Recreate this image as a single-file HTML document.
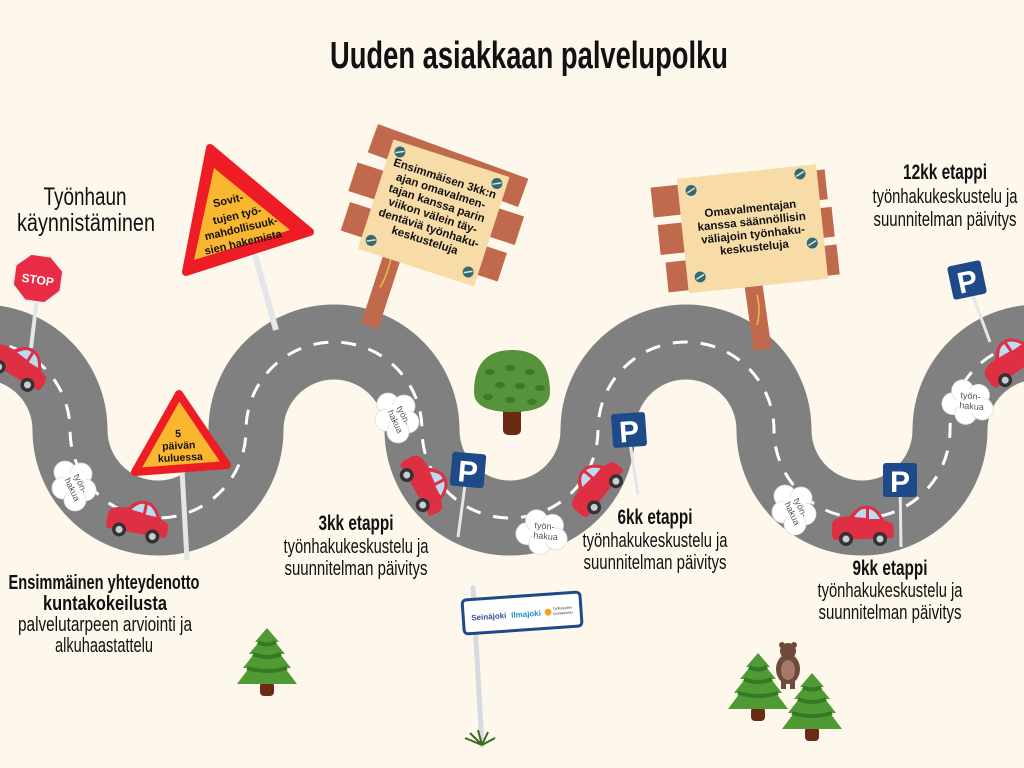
<!DOCTYPE html>
<html><head><meta charset="utf-8"><style>
html,body{margin:0;padding:0;background:#fdf7ec;}
svg{display:block}
.t{font-family:"Liberation Sans Narrow","Liberation Sans",sans-serif;fill:#111}
.b{font-family:"Liberation Sans",sans-serif;font-weight:bold;fill:#111}
</style></head><body>
<svg width="1024" height="768" viewBox="0 0 1024 768" xmlns="http://www.w3.org/2000/svg">
<defs>
<g id="car">
 <path d="M-30,8 L-30,-4 Q-28,-10 -20,-11 L-12,-12 Q-4,-24 8,-22 Q16,-20 22,-8 L30,-5 Q33,0 31,10 L-28,12 Z" fill="#de2f43"/>
 <path d="M-8,-11 Q-2,-20 4,-19 L4,-10 Z" fill="#b9dcf2"/>
 <path d="M7,-19 Q13,-18 18,-9 L7,-9 Z" fill="#b9dcf2"/>
 <circle cx="-16" cy="11" r="7" fill="#333"/><circle cx="-16" cy="11" r="3.5" fill="#c8ced3"/>
 <circle cx="18" cy="11" r="7" fill="#333"/><circle cx="18" cy="11" r="3.5" fill="#c8ced3"/>
</g>
<g id="cloud">
 <g fill="#fff" stroke="#ddd" stroke-width="0.8">
 <circle cx="-10" cy="-14" r="11"/><circle cx="6" cy="-12" r="11"/><circle cx="-12" cy="2" r="11"/><circle cx="10" cy="4" r="11"/><circle cx="0" cy="14" r="11"/><circle cx="0" cy="-2" r="12" stroke="none"/>
 </g>
 <text x="0" y="-3" text-anchor="middle" font-size="9" fill="#555" font-family="Liberation Sans,sans-serif" transform="rotate(65)">työn-</text>
 <text x="2" y="7" text-anchor="middle" font-size="9" fill="#555" font-family="Liberation Sans,sans-serif" transform="rotate(65)">hakua</text>
</g>
<g id="psign">
 <rect x="-17" y="-17" width="34" height="34" rx="3" fill="#1f4a8a"/>
 <text x="0" y="12" text-anchor="middle" font-size="30" font-weight="bold" fill="#fff" font-family="Liberation Sans,sans-serif">P</text>
</g>
<g id="pine">
 <rect x="-7" y="22" width="14" height="14" rx="4" fill="#6b2a14"/>
 <path d="M0,-32 L12,-18 L8,-18 L18,-6 L13,-6 L24,8 L18,8 L30,24 L-30,24 L-18,8 L-24,8 L-13,-6 L-18,-6 L-8,-18 L-12,-18 Z" fill="#4f9a34"/>
 <path d="M-20,8 Q0,14 20,8 M-14,-6 Q0,0 14,-6 M-9,-18 Q0,-13 9,-18" stroke="#357a22" stroke-width="4" fill="none"/>
</g>
<g id="screw"><circle r="5.5" fill="#2d6b7c"/><line x1="-4" y1="2" x2="4" y2="-2" stroke="#f5e0b0" stroke-width="1.5"/></g>
</defs>

<text class="t" x="529" y="68" text-anchor="middle" font-size="38" font-weight="bold" textLength="398" lengthAdjust="spacingAndGlyphs">Uuden asiakkaan palvelupolku</text>

<path d="M-18 342 A88 88 0 0 1 70 430 A88 88 0 0 0 246 430 A88 88 0 0 1 422 430 A88 88 0 0 0 598 430 A88 88 0 0 1 774 430 A88 88 0 0 0 950 430 A88 88 0 0 1 1126 430" fill="none" stroke="#808080" stroke-width="75"/>
<path d="M-18 342 A88 88 0 0 1 70 430 A88 88 0 0 0 246 430 A88 88 0 0 1 422 430 A88 88 0 0 0 598 430 A88 88 0 0 1 774 430 A88 88 0 0 0 950 430 A88 88 0 0 1 1126 430" fill="none" stroke="#fff" stroke-width="3" stroke-dasharray="15 13"/>

<text class="t" x="85" y="205" text-anchor="middle" font-size="25" textLength="83" lengthAdjust="spacingAndGlyphs">Työnhaun</text>
<text class="t" x="86" y="231" text-anchor="middle" font-size="25" textLength="138" lengthAdjust="spacingAndGlyphs">käynnistäminen</text>

<line x1="38" y1="290" x2="31" y2="348" stroke="#e4e6ea" stroke-width="4"/>
<polygon points="28,255 48,255 62,268 62,288 48,302 28,302 14,288 14,268" fill="#e92c45" stroke="#eee" stroke-width="2" transform="rotate(8 38 278)"/>
<text x="38" y="284" text-anchor="middle" font-size="12" font-weight="bold" fill="#fff" font-family="Liberation Sans,sans-serif" transform="rotate(8 38 278)">STOP</text>

<line x1="255" y1="255" x2="276" y2="330" stroke="#e4e6ea" stroke-width="6"/>
<polygon points="210,148 310,232 186,272" fill="#ee1c25" stroke="#ee1c25" stroke-width="8" stroke-linejoin="round"/>
<polygon points="214,168 290,230 194,260" fill="#fbb630"/>
<g class="b" font-size="11" text-anchor="middle">
<text x="228" y="204" transform="rotate(-13 228 200)">Sovit-</text>
<text x="237" y="219" transform="rotate(-13 237 215)">tujen työ-</text>
<text x="241" y="232" transform="rotate(-13 241 228)">mahdollisuuk-</text>
<text x="243" y="246" transform="rotate(-13 243 242)">sien hakemista</text>
</g>

<line x1="182" y1="470" x2="187" y2="560" stroke="#e4e6ea" stroke-width="5"/>
<polygon points="179,394 227,465 135,472" fill="#fbb630" stroke="#ee1c25" stroke-width="8" stroke-linejoin="round"/>
<g class="b" font-size="10.5" text-anchor="middle" transform="rotate(-3 180 450)"><text x="179" y="437">5</text><text x="179" y="449">päivän</text><text x="180" y="461">kuluessa</text></g>

<g transform="rotate(18 432 215)">
 <rect x="398" y="245" width="18" height="95" fill="#c0694d"/>
 <path d="M405,260 q4,20 0,40" stroke="#f4b942" stroke-width="1.5" fill="none"/>
 <rect x="352" y="148" width="160" height="30" fill="#c0694d" transform="rotate(2 432 163)"/>
 <rect x="345" y="188" width="175" height="30" fill="#c0694d"/>
 <rect x="350" y="228" width="165" height="30" fill="#c0694d"/>
 <rect x="372" y="155" width="122" height="115" fill="#f7dca8"/>
 <use href="#screw" x="382" y="165"/><use href="#screw" x="484" y="165"/><use href="#screw" x="382" y="258"/><use href="#screw" x="484" y="258"/>
 <g class="b" font-size="11.5" text-anchor="middle">
 <text x="433" y="180">Ensimmäisen 3kk:n</text><text x="433" y="193">ajan omavalmen-</text><text x="433" y="206">tajan kanssa parin</text><text x="433" y="219">viikon välein täy-</text><text x="433" y="232">dentäviä työnhaku-</text><text x="433" y="245">keskusteluja</text></g>
</g>

<rect x="748" y="280" width="18" height="70" fill="#c0694d" transform="rotate(-8 757 310)"/>
<path d="M757,295 q4,15 0,30" stroke="#f4b942" stroke-width="1.5" fill="none"/>
<g transform="rotate(-6 745 225)">
 <rect x="655" y="178" width="175" height="30" fill="#c0694d"/>
 <rect x="658" y="216" width="175" height="30" fill="#c0694d"/>
 <rect x="662" y="254" width="172" height="30" fill="#c0694d"/>
 <rect x="682" y="172" width="140" height="115" fill="#f7dca8"/>
 <use href="#screw" x="695" y="185"/><use href="#screw" x="805" y="180"/><use href="#screw" x="695" y="272"/><use href="#screw" x="810" y="250"/>
 <g class="b" font-size="11.5" text-anchor="middle">
 <text x="752" y="213">Omavalmentajan</text><text x="752" y="226">kanssa säännöllisin</text><text x="752" y="239">väliajoin työnhaku-</text><text x="752" y="252">keskusteluja</text></g>
</g>

<text class="t" x="945" y="179" text-anchor="middle" font-size="21" font-weight="bold" textLength="84" lengthAdjust="spacingAndGlyphs">12kk etappi</text>
<text class="t" x="945" y="203" text-anchor="middle" font-size="20" textLength="145" lengthAdjust="spacingAndGlyphs">työnhakukeskustelu ja</text>
<text class="t" x="945" y="226" text-anchor="middle" font-size="20" textLength="143" lengthAdjust="spacingAndGlyphs">suunnitelman päivitys</text>

<rect x="503" y="400" width="18" height="35" rx="5" fill="#6b2a14"/>
<path d="M474,392 Q474,350 512,350 Q550,350 550,392 Q550,412 512,412 Q474,412 474,392Z" fill="#56933a"/>
<g fill="#3d7a28"><ellipse cx="490" cy="372" rx="5" ry="3"/><ellipse cx="510" cy="368" rx="5" ry="3"/><ellipse cx="530" cy="372" rx="5" ry="3"/><ellipse cx="500" cy="385" rx="5" ry="3"/><ellipse cx="520" cy="386" rx="5" ry="3"/><ellipse cx="540" cy="388" rx="5" ry="3"/><ellipse cx="488" cy="397" rx="5" ry="3"/><ellipse cx="510" cy="400" rx="5" ry="3"/><ellipse cx="532" cy="402" rx="5" ry="3"/></g>

<line x1="467" y1="470" x2="458" y2="537" stroke="#e4e6ea" stroke-width="3"/>
<use href="#psign" transform="translate(468 470) rotate(5)"/>
<line x1="628" y1="430" x2="638" y2="495" stroke="#e4e6ea" stroke-width="3"/>
<use href="#psign" transform="translate(629 430) rotate(-4)"/>
<line x1="900" y1="480" x2="901" y2="547" stroke="#e4e6ea" stroke-width="3"/>
<use href="#psign" transform="translate(900 480)"/>
<line x1="967" y1="280" x2="990" y2="342" stroke="#e4e6ea" stroke-width="3"/>
<use href="#psign" transform="translate(967 280) rotate(-12)"/>

<use href="#cloud" transform="translate(75 486)"/>
<use href="#cloud" transform="translate(398 418)"/>
<use href="#cloud" transform="translate(544 532) rotate(-60)"/>
<use href="#cloud" transform="translate(795 510)"/>
<use href="#cloud" transform="translate(970 402) rotate(-60)"/>
<use href="#car" transform="translate(18 366) rotate(32)"/>
<use href="#car" transform="translate(137 522) rotate(12)"/>
<use href="#car" transform="translate(424 484) rotate(62)"/>
<use href="#car" transform="translate(596 488) rotate(-50)"/>
<use href="#car" transform="translate(862 528)"/>
<use href="#car" transform="translate(1012 362) rotate(-35)"/>

<text class="t" x="356" y="530" text-anchor="middle" font-size="21" font-weight="bold" textLength="75" lengthAdjust="spacingAndGlyphs">3kk etappi</text>
<text class="t" x="356" y="553" text-anchor="middle" font-size="20" textLength="145" lengthAdjust="spacingAndGlyphs">työnhakukeskustelu ja</text>
<text class="t" x="356" y="575" text-anchor="middle" font-size="20" textLength="143" lengthAdjust="spacingAndGlyphs">suunnitelman päivitys</text>
<text class="t" x="655" y="524" text-anchor="middle" font-size="21" font-weight="bold" textLength="75" lengthAdjust="spacingAndGlyphs">6kk etappi</text>
<text class="t" x="655" y="547" text-anchor="middle" font-size="20" textLength="145" lengthAdjust="spacingAndGlyphs">työnhakukeskustelu ja</text>
<text class="t" x="655" y="569" text-anchor="middle" font-size="20" textLength="143" lengthAdjust="spacingAndGlyphs">suunnitelman päivitys</text>
<text class="t" x="890" y="575" text-anchor="middle" font-size="21" font-weight="bold" textLength="75" lengthAdjust="spacingAndGlyphs">9kk etappi</text>
<text class="t" x="890" y="597" text-anchor="middle" font-size="20" textLength="145" lengthAdjust="spacingAndGlyphs">työnhakukeskustelu ja</text>
<text class="t" x="890" y="619" text-anchor="middle" font-size="20" textLength="143" lengthAdjust="spacingAndGlyphs">suunnitelman päivitys</text>

<text class="t" x="104" y="589" text-anchor="middle" font-size="20" font-weight="bold" textLength="191" lengthAdjust="spacingAndGlyphs">Ensimmäinen yhteydenotto</text>
<text class="t" x="105" y="610" text-anchor="middle" font-size="20" font-weight="bold" textLength="124" lengthAdjust="spacingAndGlyphs">kuntakokeilusta</text>
<text class="t" x="105" y="631" text-anchor="middle" font-size="20" textLength="174" lengthAdjust="spacingAndGlyphs">palvelutarpeen arviointi ja</text>
<text class="t" x="104" y="652" text-anchor="middle" font-size="20" textLength="98" lengthAdjust="spacingAndGlyphs">alkuhaastattelu</text>

<line x1="473" y1="588" x2="482" y2="745" stroke="#d5dbe0" stroke-width="5" stroke-linecap="round"/>
<g transform="rotate(-4 522 612)">
<rect x="463" y="596" width="118" height="34" rx="4" fill="#fff" stroke="#1f4a8a" stroke-width="3"/>
<text x="471" y="617" font-size="8" font-weight="bold" fill="#3a4f8f" font-family="Liberation Sans,sans-serif">Seinäjoki</text>
<text x="511" y="617" font-size="8" font-weight="bold" fill="#2a8ad0" font-family="Liberation Sans,sans-serif">Ilmajoki</text>
<circle cx="548" cy="614" r="3.5" fill="#f4a020"/>
<text x="553" y="612" font-size="3.5" fill="#333" font-family="Liberation Sans,sans-serif">Työllisyyden</text>
<text x="553" y="617" font-size="3.5" fill="#333" font-family="Liberation Sans,sans-serif">kuntakokeilu</text>
</g>
<path d="M482,745 L465,738 M482,745 L470,733 M482,745 L478,730 M482,745 L488,732 M482,745 L495,738" stroke="#3a6b1e" stroke-width="2"/>

<use href="#pine" transform="translate(267 660)"/>
<use href="#pine" transform="translate(758 685)"/>
<use href="#pine" transform="translate(812 705)"/>
<g transform="translate(788 665)">
 <circle cx="-6" cy="-20" r="3" fill="#6e4a3b"/><circle cx="6" cy="-20" r="3" fill="#6e4a3b"/>
 <circle cx="0" cy="-14" r="8" fill="#6e4a3b"/>
 <ellipse cx="0" cy="4" rx="12" ry="15" fill="#6e4a3b"/>
 <ellipse cx="0" cy="5" rx="7" ry="10" fill="#a57a6c"/>
 <rect x="-7" y="14" width="5" height="10" fill="#6e4a3b"/><rect x="2" y="14" width="5" height="10" fill="#6e4a3b"/>
</g>
</svg>
</body></html>
